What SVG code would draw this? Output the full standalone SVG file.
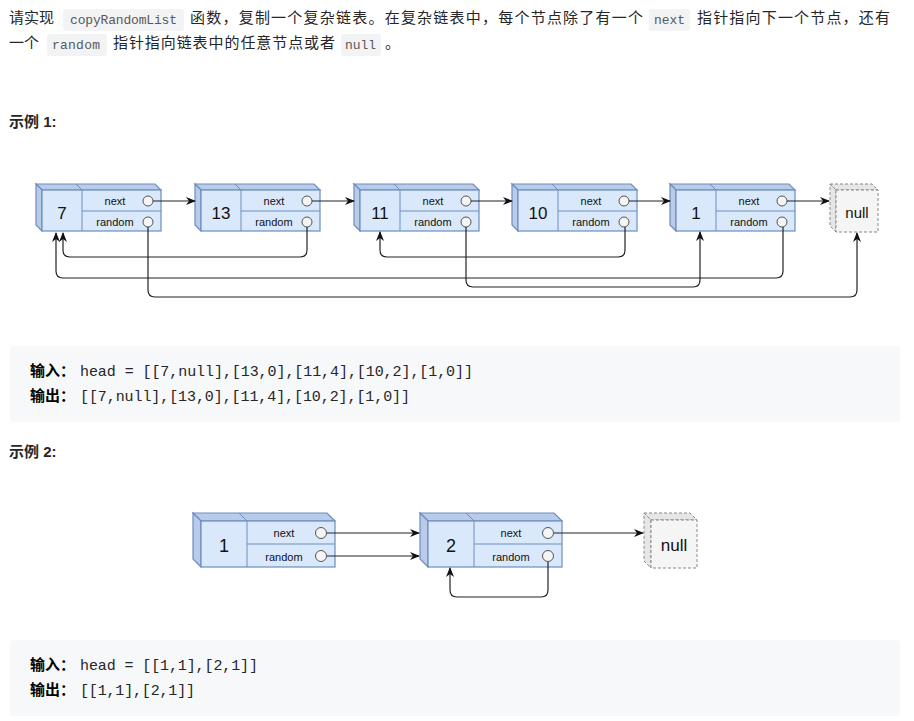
<svg xmlns="http://www.w3.org/2000/svg" width="914" height="721" viewBox="0 0 914 721">
<style>
.t{font-family:"Liberation Sans","Noto Sans CJK SC",sans-serif;font-size:15px;fill:#262626}
.c{font-family:"Liberation Mono","Noto Sans CJK SC",monospace;font-size:13px;fill:#595959}
.cb{fill:#f2f3f5}
.pre{font-family:"Liberation Mono","Noto Sans CJK SC",monospace;font-size:15px;fill:#262626}
.b{font-weight:bold;font-family:"Noto Sans CJK SC",sans-serif;font-size:15px}
.h{font-weight:bold;font-family:"Liberation Sans","Noto Sans CJK SC",sans-serif;font-size:15px;fill:#262626}
.f{fill:#dae8fc;stroke:#6c8ebf;stroke-width:1.2}
.s{fill:#b9cbe8;stroke:#6c8ebf;stroke-width:1.2}
.v{font-family:"Comic Sans MS","Liberation Sans",sans-serif;fill:#111;text-anchor:middle}
.l{font-family:"Comic Sans MS","Liberation Sans",sans-serif;font-size:11px;fill:#111;text-anchor:middle}
.o{fill:#f5f5f5;stroke:#555;stroke-width:1}
.n{fill:#f5f5f5;stroke:#888;stroke-dasharray:3 2}
.ns{fill:#e6e6e6;stroke:#888;stroke-dasharray:3 2}
.e{fill:none;stroke:#222;stroke-width:1.2;marker-end:url(#a)}
</style>
<defs>
<marker id="a" markerWidth="10" markerHeight="8" refX="9" refY="4" orient="auto" markerUnits="userSpaceOnUse"><path d="M0,0 L10,4 L0,8 L3,4 Z" fill="#111"/></marker>
<g id="n1">
<polygon class="s" points="-6,-6 113,-6 119,0 0,0"/>
<line x1="34" y1="-6" x2="40" y2="0" stroke="#6c8ebf"/>
<polygon class="s" points="-6,-6 0,0 0,41 -6,35"/>
<rect class="f" x="0" y="0" width="119" height="41"/>
<line x1="40" y1="0" x2="40" y2="41" stroke="#6c8ebf"/>
<line x1="40" y1="21" x2="119" y2="21" stroke="#6c8ebf"/>
<text class="l" x="73" y="15">next</text>
<text class="l" x="73" y="36">random</text>
<circle class="o" cx="106" cy="11" r="5"/>
<circle class="o" cx="106" cy="32" r="5"/>
</g>
<g id="n2">
<polygon class="s" points="-8,-8 126,-8 134,0 0,0"/>
<line x1="38" y1="-8" x2="46" y2="0" stroke="#6c8ebf"/>
<polygon class="s" points="-8,-8 0,0 0,46 -8,38"/>
<rect class="f" x="0" y="0" width="134" height="46"/>
<line x1="46" y1="0" x2="46" y2="46" stroke="#6c8ebf"/>
<line x1="46" y1="23" x2="134" y2="23" stroke="#6c8ebf"/>
<text class="l" x="83" y="16" font-size="12">next</text>
<text class="l" x="83" y="40" font-size="12">random</text>
<circle class="o" cx="120" cy="12" r="5.5"/>
<circle class="o" cx="120" cy="35" r="5.5"/>
</g>
</defs>
<rect width="914" height="721" fill="#fff"/>
<g id="intro">
<text class="t" x="9" y="23">请实现</text>
<rect class="cb" x="63" y="9" width="121" height="22" rx="3"/>
<text class="c" x="70" y="24" textLength="107">copyRandomList</text>
<text class="t" x="190" y="23" textLength="453">函数，复制一个复杂链表。在复杂链表中，每个节点除了有一个</text>
<rect class="cb" x="649" y="9" width="41" height="22" rx="3"/>
<text class="c" x="654" y="24" textLength="31">next</text>
<text class="t" x="697" y="23" textLength="193">指针指向下一个节点，还有</text>
<text class="t" x="9" y="48">一个</text>
<rect class="cb" x="47" y="34" width="60" height="22" rx="3"/>
<text class="c" x="52" y="49" textLength="48">random</text>
<text class="t" x="113" y="48" textLength="222">指针指向链表中的任意节点或者</text>
<rect class="cb" x="341" y="34" width="40" height="22" rx="3"/>
<text class="c" x="345" y="49" textLength="31">null</text>
<text class="t" x="385" y="48">。</text>
<text class="h" x="9" y="127">示例 1:</text>
<text class="h" x="9" y="457">示例 2:</text>
</g>
<g id="ex1-nodes">
<g id="node7"><use href="#n1" x="42" y="190"/><text class="v" x="62" y="219" font-size="17">7</text></g>
<g id="node13"><use href="#n1" x="201" y="190"/><text class="v" x="221" y="219" font-size="17">13</text></g>
<g id="node11"><use href="#n1" x="360" y="190"/><text class="v" x="380" y="219" font-size="17">11</text></g>
<g id="node10"><use href="#n1" x="518" y="190"/><text class="v" x="538" y="219" font-size="17">10</text></g>
<g id="node1"><use href="#n1" x="676" y="190"/><text class="v" x="696" y="219" font-size="17">1</text></g>
<g id="null1">
<polygon class="ns" points="830,184 872,184 878,190 836,190"/>
<polygon class="ns" points="830,184 836,190 836,232 830,226"/>
<rect class="n" x="836" y="190" width="42" height="42"/>
<text class="v" x="857" y="218" font-size="15">null</text>
</g>
</g>
<g id="ex1-edges">
<path class="e" d="M153,201 H195"/>
<path class="e" d="M312,201 H354"/>
<path class="e" d="M471,201 H512"/>
<path class="e" d="M629,201 H670"/>
<path class="e" d="M787,201 H829"/>
<path class="e" d="M307,227 V250 Q307,257 300,257 H70 Q63,257 63,250 V233"/>
<path class="e" d="M783,227 V271 Q783,278 776,278 H63 Q56,278 56,271 V233"/>
<path class="e" d="M148,227 V290 Q148,297 155,297 H850 Q857,297 857,290 V233"/>
<path class="e" d="M466,227 V280 Q466,287 473,287 H693 Q700,287 700,280 V232"/>
<path class="e" d="M625,227 V250 Q625,257 618,257 H387 Q380,257 380,250 V232"/>
</g>
<g id="code1">
<rect x="10" y="346" width="890" height="76" rx="4" fill="#f7f8fa"/>
<text class="b" x="30" y="376">输入：</text>
<text class="pre" x="80" y="376" textLength="393">head = [[7,null],[13,0],[11,4],[10,2],[1,0]]</text>
<text class="b" x="30" y="401">输出：</text>
<text class="pre" x="80" y="401" textLength="330">[[7,null],[13,0],[11,4],[10,2],[1,0]]</text>
</g>
<g id="ex2-nodes">
<g id="e2node1"><use href="#n2" x="201" y="521"/><text class="v" x="224" y="552" font-size="18">1</text></g>
<g id="e2node2"><use href="#n2" x="428" y="521"/><text class="v" x="451" y="552" font-size="18">2</text></g>
<g id="null2">
<polygon class="ns" points="644,513 690,513 697,520 651,520"/>
<polygon class="ns" points="644,513 651,520 651,568 644,561"/>
<rect class="n" x="651" y="520" width="46" height="48"/>
<text class="v" x="674" y="551" font-size="17">null</text>
</g>
</g>
<g id="ex2-edges">
<path class="e" d="M327,533 H419"/>
<path class="e" d="M327,556 H419"/>
<path class="e" d="M554,533 H643"/>
<path class="e" d="M548,562 V590 Q548,597 541,597 H457 Q450,597 450,590 V568"/>
</g>
<g id="code2">
<rect x="10" y="640" width="890" height="76" rx="4" fill="#f7f8fa"/>
<text class="b" x="30" y="670">输入：</text>
<text class="pre" x="80" y="670" textLength="178">head = [[1,1],[2,1]]</text>
<text class="b" x="30" y="695">输出：</text>
<text class="pre" x="80" y="695" textLength="115">[[1,1],[2,1]]</text>
</g>
</svg>
